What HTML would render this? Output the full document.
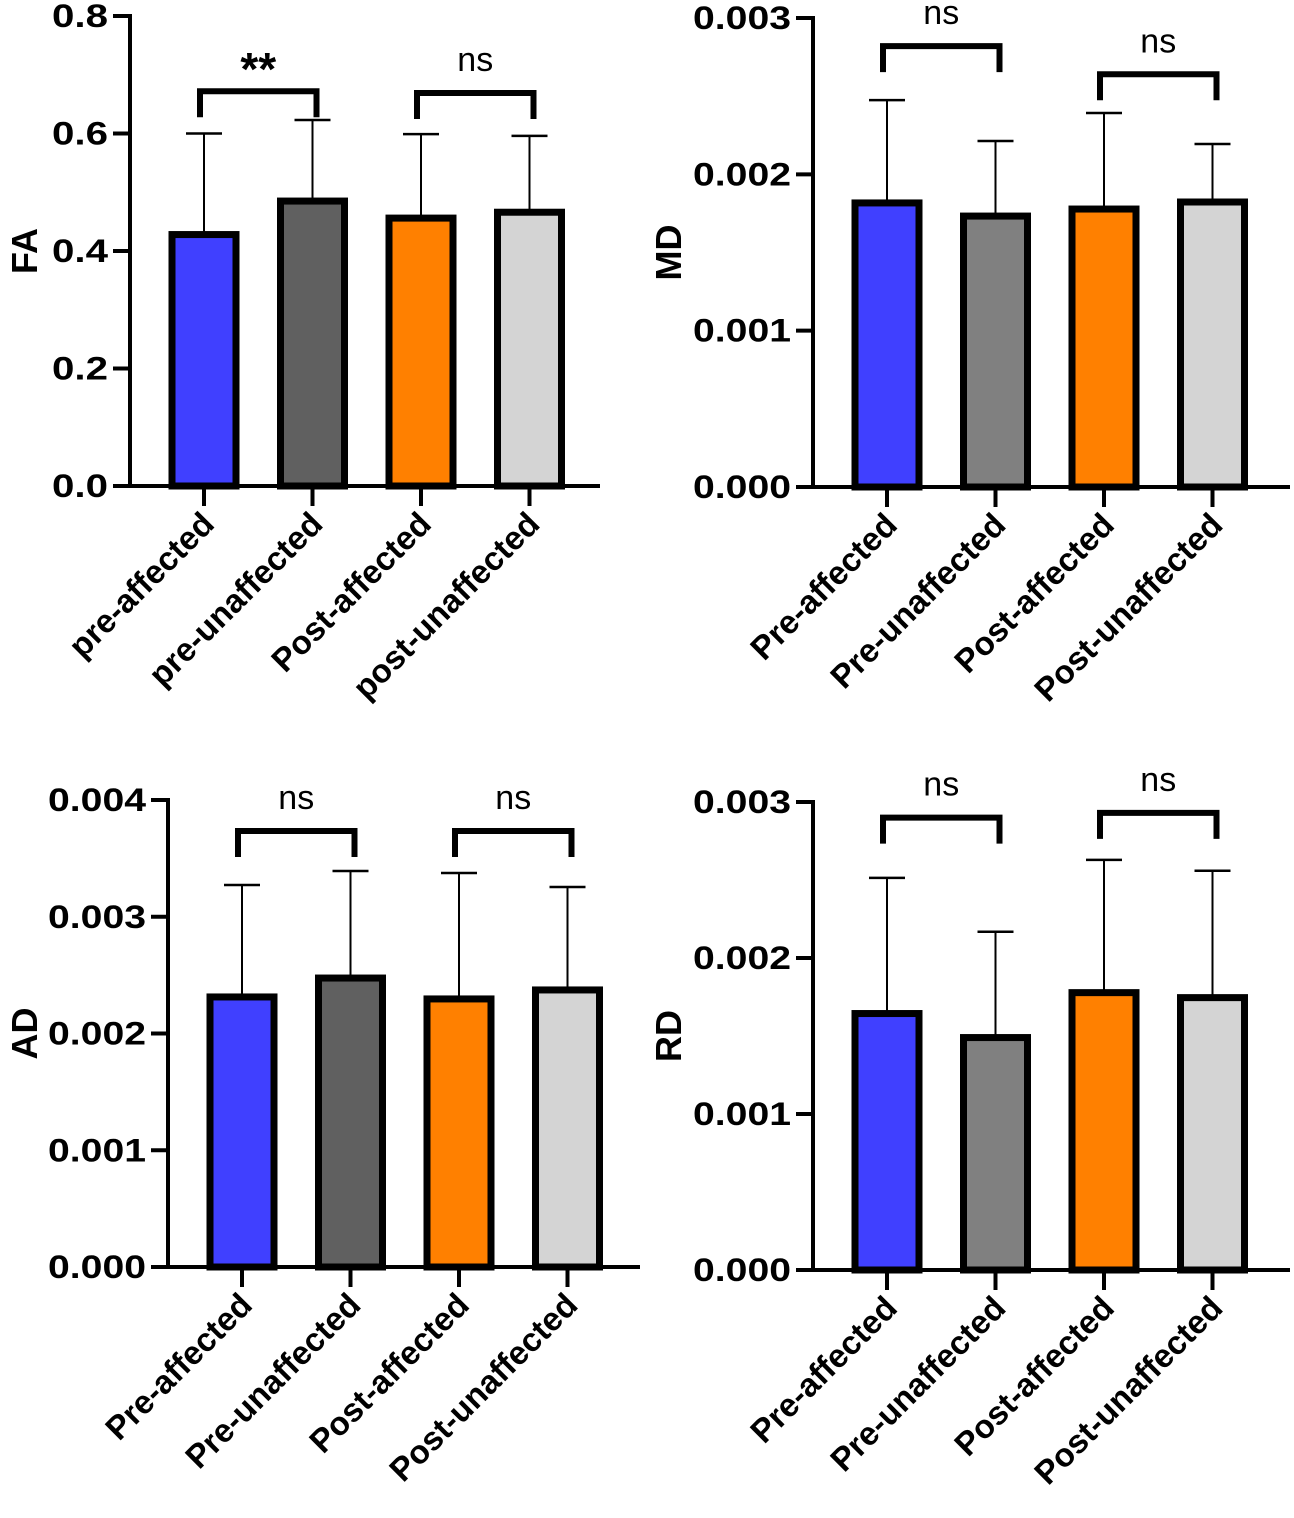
<!DOCTYPE html>
<html><head><meta charset="utf-8"><style>
html,body{margin:0;padding:0;background:#fff}
svg{display:block;font-family:"Liberation Sans",Arial,sans-serif}
</style></head><body>
<svg id="c" width="1294" height="1518" viewBox="0 0 1294 1518"></svg>
<script>
const colors = ["#4040ff", "#606060", "#ff8000", "#d4d4d4"];
const colors2 = ["#4040ff", "#808080", "#ff8000", "#d4d4d4"];
const faCats = ["pre-affected","pre-unaffected","Post-affected","post-unaffected"];
const capCats = ["Pre-affected","Pre-unaffected","Post-affected","Post-unaffected"];
const faMeans = [0.428, 0.485, 0.456, 0.466];
const faErr = [0.600, 0.623, 0.599, 0.596];
const faTicks = [0, 0.2, 0.4, 0.6, 0.8];
const faTickLabels = ["0.0","0.2","0.4","0.6","0.8"];
const faSig = ["**","ns"];
const faSigY = [0.672, 0.669];
const mdMeans = [0.001817, 0.001733, 0.001778, 0.001823];
const mdErr = [0.002475, 0.002213, 0.002392, 0.002194];
const mdTicks = [0, 0.001, 0.002, 0.003];
const mdTickLabels = ["0.000","0.001","0.002","0.003"];
const mdSig = ["ns","ns"];
const mdSigY = [0.00282, 0.00264];
const adMeans = [0.002313, 0.002475, 0.002296, 0.002373];
const adErr = [0.003272, 0.003392, 0.003375, 0.003255];
const adTicks = [0, 0.001, 0.002, 0.003, 0.004];
const adTickLabels = ["0.000","0.001","0.002","0.003","0.004"];
const adSig = ["ns","ns"];
const adSigY = [0.003735, 0.003735];
const rdMeans = [0.001644, 0.001490, 0.001778, 0.001746];
const rdErr = [0.002514, 0.002168, 0.002629, 0.002559];
const rdTicks = [0, 0.001, 0.002, 0.003];
const rdTickLabels = ["0.000","0.001","0.002","0.003"];
const rdSig = ["ns","ns"];
const rdSigY = [0.0029, 0.00293];

const NS="http://www.w3.org/2000/svg";
const svg=document.getElementById('c');
function mk(tag,attrs,parent,text){const e=document.createElementNS(NS,tag);for(const k in attrs)e.setAttribute(k,attrs[k]);if(text!==undefined)e.textContent=text;parent.appendChild(e);return e;}

function panel(o){
  const g=mk('g',{},svg);
  
  
  const yMax=o.ticks[o.ticks.length-1];
  const y=v=>o.y0-(v/yMax)*(o.y0-o.yTop);
  const x=i=>o.ax+74+i*108.5;
  const t=mk('text',{x:o.titleX,y:(o.y0+o.yTop)/2,'font-size':36,'font-weight':'bold','text-anchor':'middle',transform:`rotate(-90 ${o.titleX} ${(o.y0+o.yTop)/2})`,dy:13},g,o.title);
  
  
  o.means.forEach((m,i)=>{
    const cx=x(i);
    const el=mk('line',{x1:cx,x2:cx,y1:y(m),y2:y(o.err[i]),stroke:'#000','stroke-width':2},g);
    
    
    const cap=mk('line',{x1:cx-18,x2:cx+18,y1:y(o.err[i]),y2:y(o.err[i]),stroke:'#000','stroke-width':2.5},g);
    
    
    const r=mk('rect',{x:cx-32,y:y(m),width:64,height:o.y0-y(m),fill:o.colors[i],stroke:'#000','stroke-width':7},g);
    
    
    const tk=mk('line',{x1:cx,x2:cx,y1:o.y0,y2:o.y0+20,stroke:'#000','stroke-width':4},g);
    
    
    const lx=cx+12, ly=o.y0+40;
    const lb=mk('text',{x:lx,y:ly,'font-size':33,'font-weight':'bold','text-anchor':'end',transform:`rotate(-45 ${lx} ${ly})`},g,o.cats[i]);
    
    
  });
  const ya=mk('line',{x1:o.ax,x2:o.ax,y1:o.yTop-2,y2:o.y0+2,stroke:'#000','stroke-width':4},g);
  
  
  const xa=mk('line',{x1:o.ax-17,x2:o.xEnd,y1:o.y0,y2:o.y0,stroke:'#000','stroke-width':4},g);
  
  
  o.ticks.forEach((v,i)=>{
    const l=mk('line',{x1:o.ax-17,x2:o.ax,y1:y(v),y2:y(v),stroke:'#000','stroke-width':4},g);
    
    
    const lbl=o.tickLabels[i];
    const tt=mk('text',{x:o.ax-22,y:y(v)+11,'font-size':32,'font-weight':'bold','text-anchor':'end',textLength:lbl.length>3?98:56,lengthAdjust:'spacingAndGlyphs'},g,lbl);
    
    
  });
  o.sig.forEach((s,k)=>{
    const x1=x(2*k)-4, x2=x(2*k+1)+4, yy=y(o.sigY[k]);
    const p=mk('path',{d:`M${x1} ${yy+26} V${yy} H${x2} V${yy+26}`,fill:'none',stroke:'#000','stroke-width':6},g);
    
    
    const st=mk('text',{x:(x1+x2)/2,y:s==='**'?yy-6:yy-22,'font-size':s==='**'?46:34,'font-weight':s==='**'?'bold':'normal','text-anchor':'middle'},g,s);
    
    
  });
}
panel({name:'fa',title:'FA',titleX:24,ax:130,y0:486,yTop:16,xEnd:600,means:faMeans,err:faErr,ticks:faTicks,tickLabels:faTickLabels,sig:faSig,sigY:faSigY,cats:faCats,colors:colors});
panel({name:'md',title:'MD',titleX:668,ax:813,y0:487,yTop:18,xEnd:1290,means:mdMeans,err:mdErr,ticks:mdTicks,tickLabels:mdTickLabels,sig:mdSig,sigY:mdSigY,cats:capCats,colors:colors2});
panel({name:'ad',title:'AD',titleX:24,ax:168,y0:1267,yTop:800,xEnd:640,means:adMeans,err:adErr,ticks:adTicks,tickLabels:adTickLabels,sig:adSig,sigY:adSigY,cats:capCats,colors:colors});
panel({name:'rd',title:'RD',titleX:668,ax:813,y0:1270,yTop:802,xEnd:1290,means:rdMeans,err:rdErr,ticks:rdTicks,tickLabels:rdTickLabels,sig:rdSig,sigY:rdSigY,cats:capCats,colors:colors2});
</script>
</body></html>
